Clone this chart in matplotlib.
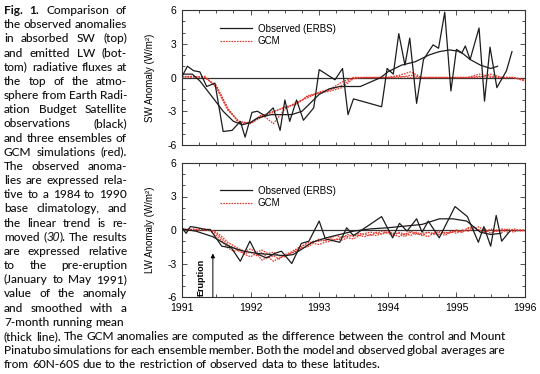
import numpy as np
import matplotlib
matplotlib.use('Agg')
import matplotlib.pyplot as plt
from matplotlib.ticker import MultipleLocator
from matplotlib.transforms import IdentityTransform

plt.rcParams['font.family'] = 'Liberation Sans'

# ---- data ----
years = [1991, 1992, 1993, 1994, 1995, 1996]
year_labels = ['1991', '1992', '1993', '1994', '1995', '1996']
y_ticks = [-6, -3, 0, 3, 6]
y_ticklabels = ['-6', '-3', '0', '3', '6']

# SW, observed ERBS (raw 36-day values)
sw_obs_t = [1991.00, 1991.08, 1991.17, 1991.26, 1991.36, 1991.48, 1991.60, 1991.73,
            1991.85, 1991.92, 1992.02, 1992.10, 1992.21, 1992.33, 1992.43, 1992.50,
            1992.57, 1992.67, 1992.77, 1992.92, 1993.00, 1993.23, 1993.34, 1993.42,
            1993.50, 1993.91, 1993.99, 1994.08, 1994.16, 1994.25, 1994.32, 1994.42,
            1994.52, 1994.66, 1994.74, 1994.83, 1994.92, 1995.00, 1995.08, 1995.13,
            1995.20, 1995.33, 1995.41, 1995.49, 1995.59, 1995.73, 1995.81]
sw_obs = [0.1, 1.0, 0.6, 0.5, -0.8, -0.5, -4.8, -4.7,
          -3.9, -5.3, -3.1, -3.0, -3.4, -2.7, -4.7, -2.0,
          -3.9, -2.0, -3.8, -2.7, 0.7, -0.2, 0.8, -3.3,
          -1.9, -2.6, 0.8, 0.3, 3.9, 1.1, 3.5, -2.3,
          1.6, 2.9, 2.6, 5.8, -1.2, 2.5, 2.2, 2.8,
          1.6, 4.4, -2.1, 2.7, -0.9, 0.6, 2.3]

# SW, observed 7-month running mean
sw_smooth_t = [1991.00, 1991.15, 1991.26, 1991.45, 1991.60, 1991.75, 1991.88, 1992.00,
               1992.10, 1992.30, 1992.60, 1992.75, 1992.90, 1993.00, 1993.15, 1993.30,
               1993.60, 1993.75, 1993.90, 1994.00, 1994.20, 1994.40, 1994.60, 1994.75,
               1994.90, 1995.02, 1995.10, 1995.20, 1995.35, 1995.50, 1995.60]
sw_smooth = [0.3, 0.3, -0.3, -1.8, -3.0, -3.9, -4.2, -4.0,
             -3.6, -3.3, -3.3, -3.0, -2.1, -1.5, -1.0, -0.8,
             -0.8, -0.4, 0.0, 0.5, 1.1, 1.4, 2.0, 2.3,
             2.45, 2.35, 2.1, 1.6, 1.1, 0.8, 1.0]

# SW, GCM ensembles (every 2 months, 1991.0 .. 1996.0)
sw_gcm_t = 1991 + np.arange(31) / 6
sw_gcm_a = [0.1, 0.1, 0.0, -0.8, -2.8, -4.0, -4.0, -3.4, -3.0, -2.7, -2.3, -1.7,
            -1.35, -1.1, -0.7, 0.0, 0.0, 0.0, 0.0, 0.1, 0.0, 0.0, 0.0, 0.0,
            0.0, 0.0, 0.1, 0.0, 0.0, 0.0, -0.2]
sw_gcm_b = [0.0, 0.1, 0.0, -0.7, -2.7, -4.1, -4.0, -3.3, -4.1, -2.8, -2.2, -1.8,
            -1.3, -1.0, -0.4, 0.0, 0.0, 0.0, 0.0, 0.2, 0.5, 0.0, 0.0, 0.0,
            0.0, 0.0, 0.3, 0.1, 0.0, 0.0, -0.3]
sw_gcm_c = [0.1, 0.0, 0.1, -0.9, -2.9, -3.9, -4.1, -3.5, -3.1, -2.6, -2.4, -1.6,
            -1.4, -1.2, -0.9, -0.1, 0.0, 0.0, 0.0, 0.0, 0.2, 0.0, 0.0, 0.0,
            0.0, 0.0, 0.0, 0.3, 0.0, 0.0, -0.3]

# LW, observed ERBS (raw)
lw_obs_t = [1991.00, 1991.06, 1991.12, 1991.19, 1991.34, 1991.41, 1991.58, 1991.72,
            1991.85, 1991.99, 1992.08, 1992.23, 1992.35, 1992.45, 1992.60, 1992.74,
            1992.85, 1993.00, 1993.09, 1993.30, 1993.40, 1993.50, 1993.91, 1994.07,
            1994.17, 1994.28, 1994.42, 1994.50, 1994.59, 1994.75, 1994.98, 1995.16,
            1995.32, 1995.40, 1995.50, 1995.58, 1995.66, 1995.78]
lw_obs = [0.2, -0.3, 0.3, 0.25, 0.05, 0.05, -1.45, -1.6,
          -2.8, -1.0, -2.1, -2.5, -2.1, -1.9, -3.0, -1.2,
          -1.0, 0.8, -0.8, -1.1, 0.2, -0.5, 1.2, -0.7,
          0.6, -0.1, 1.0, -0.2, 0.8, -0.7, 2.1, 1.2,
          -1.1, 0.3, -1.45, 1.3, -1.0, -0.1]

# LW, observed 7-month running mean
lw_smooth_t = [1991.00, 1991.20, 1991.45, 1991.70, 1991.90, 1992.10, 1992.30, 1992.50,
               1992.62, 1992.75, 1992.90, 1993.10, 1993.30, 1993.50, 1993.75, 1994.00,
               1994.25, 1994.50, 1994.75, 1994.95, 1995.15, 1995.35, 1995.50, 1995.65]
lw_smooth = [0.1, -0.1, -0.6, -1.5, -1.9, -2.1, -2.2, -2.3,
             -2.2, -1.7, -1.1, -0.7, -0.4, -0.1, 0.1, 0.2,
             0.35, 0.5, 1.0, 1.0, 0.8, -0.2, -0.4, -0.3]

# LW, GCM ensembles (monthly, 1991.0 .. 1996.0)
lw_gcm_t = 1991 + np.arange(61) / 12
lw_gcm_a = [0.0, 0.0, 0.1, 0.0, 0.0, 0.0, -0.3, -0.8, -1.3, -1.6, -1.9, -2.1,
            -2.0, -2.3, -2.0, -2.5, -2.3, -2.6, -2.2, -2.0, -1.7, -1.4, -1.3, -1.0,
            -1.0, -0.9, -0.8, -0.9, -0.6, -0.6, -0.4, -0.5, -0.3, -0.2, -0.3, -0.1,
            -0.3, -0.5, -0.2, -0.4, -0.1, -0.3, -0.5, -0.2, -0.3, -0.1, -0.3, -0.2,
            -0.1, -0.2, 0.1, 0.2, 0.0, -0.2, 0.0, -0.1, 0.1, 0.0, -0.2, 0.0, 0.0]
lw_gcm_b = [0.0, 0.1, 0.0, 0.0, 0.1, -0.1, -0.5, -1.0, -1.6, -1.9, -1.8, -2.2,
            -2.4, -2.1, -2.7, -2.4, -2.8, -2.5, -2.3, -2.1, -1.9, -1.6, -1.5, -1.2,
            -1.3, -1.1, -1.0, -0.8, -0.9, -0.7, -0.8, -0.5, -0.6, -0.4, -0.5, -0.3,
            -0.2, -0.4, -0.6, -0.3, -0.5, -0.2, -0.4, -0.6, -0.3, -0.4, -0.2, -0.3,
            0.0, -0.2, 0.2, 0.3, -0.1, 0.1, -0.3, 0.0, -0.2, 0.1, 0.0, -0.1, 0.0]
lw_gcm_c = [0.1, 0.0, 0.0, 0.1, 0.0, 0.0, -0.2, -0.6, -1.1, -1.4, -1.7, -1.9,
            -1.7, -2.0, -1.8, -2.1, -2.0, -2.3, -2.4, -2.1, -1.8, -1.5, -1.1, -1.1,
            -0.8, -1.0, -0.7, -0.5, -0.7, -0.4, -0.6, -0.3, -0.4, -0.5, -0.2, -0.4,
            -0.1, -0.3, -0.3, -0.6, -0.2, -0.4, -0.3, -0.2, -0.4, -0.2, -0.5, -0.1,
            -0.3, 0.0, -0.1, 0.1, 0.3, -0.2, 0.1, -0.1, 0.0, -0.2, 0.1, 0.0, -0.1]

eruption_t = 1991.45

# caption text, line by line as printed; **bold**, _italic_ segments
col_lines = [
    "**Fig.** **1.** Comparison of",
    "the observed anomalies",
    "in absorbed SW (top)",
    "and emitted LW (bot-",
    "tom) radiative fluxes at",
    "the top of the atmo-",
    "sphere from Earth Radi-",
    "ation Budget Satellite",
    "observations (black)",
    "and three ensembles of",
    "GCM simulations (red).",
    "The observed anoma-",
    "lies are expressed rela-",
    "tive to a 1984 to 1990",
    "base climatology, and",
    "the linear trend is re-",
    "moved (_30_). The results",
    "are expressed relative",
    "to the pre-eruption",
    "(January to May 1991)",
    "value of the anomaly",
    "and smoothed with a",
    "7-month running mean",
]
wide_lines = [
    "(thick line). The GCM anomalies are computed as the difference between the control and Mount",
    "Pinatubo simulations for each ensemble member. Both the model and observed global averages are",
    "from 60N-60S due to the restriction of observed data to these latitudes.",
]

# ---- figure ----
W, H = 540, 374
fig = plt.figure(figsize=(W / 100, H / 100), dpi=100)
ax1 = fig.add_axes([182 / W, 1 - 145 / H, 343 / W, 135 / H])
ax2 = fig.add_axes([182 / W, 1 - 297 / H, 343 / W, 134 / H])

red = '#e2392e'
blk = '#1c1c1c'
dots = (0, (1.3, 0.9))

for ax in (ax1, ax2):
    ax.set_xlim(1991, 1996)
    ax.set_ylim(-6, 6)
    ax.axhline(0, color='#333333', lw=0.9, zorder=1)
    ax.set_xticks(years)
    ax.xaxis.set_minor_locator(MultipleLocator(0.25))
    ax.set_yticks(y_ticks)
    ax.set_yticklabels(y_ticklabels)
    ax.yaxis.set_minor_locator(MultipleLocator(1))
    ax.tick_params(which='both', direction='in', top=True, right=True,
                   width=0.6, color='#333333', labelsize=7.5, pad=4)
    ax.tick_params(which='major', length=3.5)
    ax.tick_params(which='minor', length=2)
    for s in ax.spines.values():
        s.set_linewidth(0.8)
        s.set_color('#333333')

ax1.set_xticklabels([])
ax2.set_xticklabels(year_labels)

leg_kw = dict(loc='upper left', frameon=False, fontsize=7, handlelength=3.3,
              handletextpad=0.6, labelspacing=0.25, borderaxespad=0, borderpad=0)

# SW panel
for g in (sw_gcm_a, sw_gcm_b, sw_gcm_c):
    lg, = ax1.plot(sw_gcm_t, g, color=red, lw=0.9, ls=dots, zorder=2)
lo, = ax1.plot(sw_obs_t, sw_obs, color=blk, lw=0.9, zorder=3)
ax1.plot(sw_smooth_t, sw_smooth, color=blk, lw=0.9, zorder=3)
ax1.legend([lo, lg], ['Observed (ERBS)', 'GCM'], bbox_to_anchor=(0.11, 0.90), **leg_kw)
ax1.set_ylabel('SW Anomaly (W/m²)', fontsize=7)
ax1.yaxis.set_label_coords(-0.078, 0.5)

# LW panel
for g in (lw_gcm_a, lw_gcm_b, lw_gcm_c):
    lg, = ax2.plot(lw_gcm_t, g, color=red, lw=0.9, ls=dots, zorder=2)
lo, = ax2.plot(lw_obs_t, lw_obs, color=blk, lw=0.9, zorder=3)
ax2.plot(lw_smooth_t, lw_smooth, color=blk, lw=0.9, zorder=3)
ax2.legend([lo, lg], ['Observed (ERBS)', 'GCM'], bbox_to_anchor=(0.11, 0.83), **leg_kw)
ax2.set_ylabel('LW Anomaly (W/m²)', fontsize=7)
ax2.yaxis.set_label_coords(-0.078, 0.5)

ax2.annotate('', xy=(eruption_t, -2.1), xytext=(eruption_t, -6),
             arrowprops=dict(arrowstyle='-|>', lw=0.7, color='black',
                             mutation_scale=6, shrinkA=0, shrinkB=0))
ax2.text(eruption_t - 0.17, -5.95, 'Eruption', rotation=90, fontsize=6.5,
         fontweight='bold', ha='center', va='bottom')

# ---- caption, drawn word by word so it can be justified ----
rend = fig.canvas.get_renderer()
cap_font = 'Lato'
base_style = dict(family=cap_font, weight=500)


def seg_style(seg):
    if seg.startswith('**'):
        return seg.strip('*'), dict(family=cap_font, weight='bold')
    if seg.startswith('_'):
        return seg.strip('_'), dict(family='Liberation Sans', style='italic')
    return seg, base_style


def split_word(word):
    # "(_30_)." -> ["(", "_30_", ")."]
    out, buf, i = [], '', 0
    while i < len(word):
        for mark in ('**', '_'):
            if word.startswith(mark, i):
                j = word.find(mark, i + len(mark))
                if buf:
                    out.append(buf)
                    buf = ''
                out.append(word[i:j + len(mark)])
                i = j + len(mark)
                break
        else:
            buf += word[i]
            i += 1
    if buf:
        out.append(buf)
    return out


def text_width(s, size, **kw):
    t = fig.text(0, 0, s, fontsize=size, **kw)
    w = t.get_window_extent(renderer=rend).width
    t.remove()
    return w


# fit the size so the last (unjustified) line spans about 379 px
cap_size = 10 * 379 / text_width(wide_lines[-1], 10, **base_style)
space_w = text_width('x x', cap_size, **base_style) - text_width('xx', cap_size, **base_style)


def put_line(line, x0, x1, y_base, justify=True):
    words = []
    for w in line.split(' '):
        segs = [seg_style(s) for s in split_word(w)]
        widths = [text_width(s, cap_size, **st) for s, st in segs]
        words.append((segs, widths))
    total = sum(sum(wd) for _, wd in words)
    if justify and len(words) > 1:
        gap = (x1 - x0 - total) / (len(words) - 1)
    else:
        gap = space_w
    x = x0
    for segs, widths in words:
        for (s, st), wd in zip(segs, widths):
            fig.text(x, H - y_base, s, fontsize=cap_size,
                     transform=IdentityTransform(), va='baseline', ha='left',
                     color='#111111', **st)
            x += wd
        x += gap


step = 14.17
for i, line in enumerate(col_lines):
    put_line(line, 4, 127, 14 + i * step, justify=(i < len(col_lines) - 1))
n = len(col_lines)
for j, line in enumerate(wide_lines):
    put_line(line, 4, 505, 14 + (n + j) * step, justify=(j < len(wide_lines) - 1))

fig.savefig('out.png', dpi=100)
